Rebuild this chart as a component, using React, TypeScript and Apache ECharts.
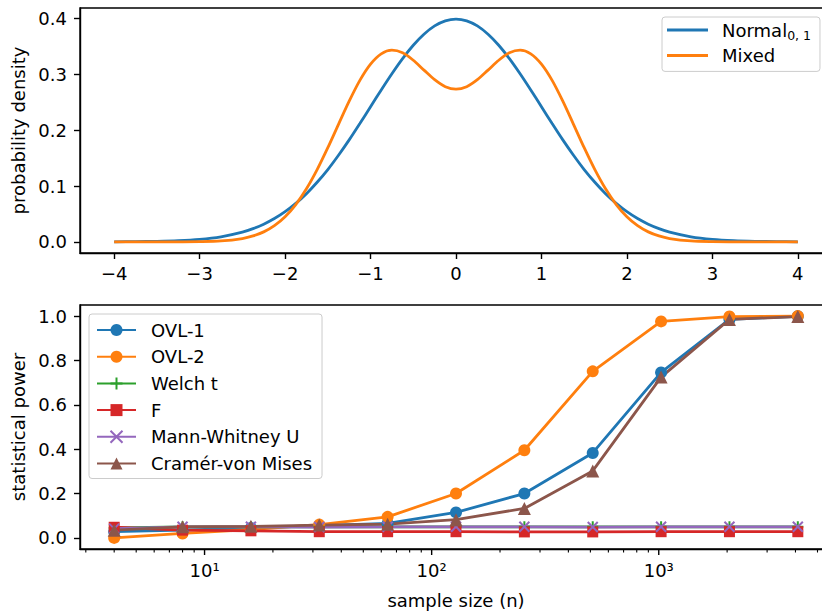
import React, { useEffect, useRef } from 'react';
import * as echarts from 'echarts';

// ---------- data ----------
const densityX = [
  -4, -3.75, -3.5, -3.25, -3, -2.75, -2.5, -2.375, -2.25, -2.125, -2, -1.875, -1.75, -1.625, -1.5, -1.375, -1.25, -1.125,
  -1, -0.875, -0.75, -0.625, -0.5, -0.375, -0.25, -0.125,
  0, 0.125, 0.25, 0.375, 0.5, 0.625, 0.75, 0.875, 1, 1.125, 1.25, 1.375, 1.5, 1.625, 1.75, 1.875, 2, 2.125, 2.25, 2.375,
  2.5, 2.75, 3, 3.25, 3.5, 3.75, 4,
];
const normalDensity = [
  0.0001, 0.0004, 0.0009, 0.002, 0.0044, 0.0091, 0.0175, 0.0238, 0.0317, 0.0417, 0.054, 0.0689, 0.0863, 0.1067, 0.1295, 0.1551, 0.1826, 0.2119,
  0.242, 0.2721, 0.3011, 0.3282, 0.3521, 0.3718, 0.3867, 0.3958,
  0.3989, 0.3958, 0.3867, 0.3718, 0.3521, 0.3282, 0.3011, 0.2721, 0.242, 0.2119, 0.1826, 0.1551, 0.1295, 0.1067, 0.0863, 0.0689, 0.054, 0.0417, 0.0317, 0.0238,
  0.0175, 0.0091, 0.0044, 0.002, 0.0009, 0.0004, 0.0001,
];
const mixedDensity = [
  0, 0, 0, 0.0001, 0.0004, 0.0017, 0.006, 0.0106, 0.0179, 0.029, 0.045, 0.0668, 0.095, 0.1293, 0.1686, 0.2105, 0.2519, 0.2891,
  0.3182, 0.3367, 0.3432, 0.3385, 0.3252, 0.3076, 0.2904, 0.2779,
  0.2734, 0.2779, 0.2904, 0.3076, 0.3252, 0.3385, 0.3432, 0.3367, 0.3182, 0.2891, 0.2519, 0.2105, 0.1686, 0.1293, 0.095, 0.0668, 0.045, 0.029, 0.0179, 0.0106,
  0.006, 0.0017, 0.0004, 0.0001, 0, 0, 0,
];

const sampleSizes = [4, 8, 16, 32, 64, 128, 256, 512, 1024, 2048, 4096];
const ovl1Power = [0.028, 0.035, 0.045, 0.055, 0.065, 0.115, 0.2, 0.383, 0.746, 0.985, 0.999];
const ovl2Power = [0.0, 0.02, 0.038, 0.06, 0.095, 0.2, 0.395, 0.751, 0.976, 0.998, 1.0];
const welchPower = [0.045, 0.05, 0.05, 0.05, 0.05, 0.05, 0.05, 0.05, 0.05, 0.05, 0.05];
const fPower = [0.048, 0.035, 0.032, 0.028, 0.028, 0.028, 0.027, 0.027, 0.028, 0.028, 0.028];
const mannWhitneyPower = [0.042, 0.05, 0.05, 0.049, 0.05, 0.05, 0.05, 0.049, 0.05, 0.05, 0.05];
const cvmPower = [0.035, 0.05, 0.052, 0.058, 0.062, 0.082, 0.133, 0.302, 0.725, 0.985, 0.998];

const densityXTicks = [-4, -3, -2, -1, 0, 1, 2, 3, 4];
const densityYTicks = [0, 0.1, 0.2, 0.3, 0.4];
const powerYTicks = [0, 0.2, 0.4, 0.6, 0.8, 1.0];
const logMajorTicks = [10, 100, 1000];
const logMajorLabels = ['10\u00b9', '10\u00b2', '10\u00b3'];
const logMinorTicks = [3, 4, 5, 6, 7, 8, 9, 20, 30, 40, 50, 60, 70, 80, 90, 200, 300, 400, 500, 600, 700, 800, 900, 2000, 3000, 4000, 5000];

// ---------- style ----------
const FONT = 'DejaVu Sans';
const FS = 18;
const C = ['#1f77b4', '#ff7f0e', '#2ca02c', '#d62728', '#9467bd', '#8c564b'];
const LW = 2.8;
const AX_W = 1.4;

const X1_MIN = -4.4, X1_MAX = 4.4;
const Y1_MIN = -0.01995, Y1_MAX = 0.4188;
const X2_MIN = 2.8284, X2_MAX = 5792.6;
const Y2_MIN = -0.05, Y2_MAX = 1.05;

const PLUS = 'path://M0,50 L100,50 M50,0 L50,100';
const CROSS = 'path://M0,0 L100,100 M0,100 L100,0';

function fmtMinus(v: number, digits: number) {
  const s = Math.abs(v).toFixed(digits);
  return v < 0 ? '\u2212' + s : s;
}

function axisCommon() {
  return {
    axisLine: { show: true, onZero: false, lineStyle: { color: '#000', width: AX_W } },
    splitLine: { show: false },
    nameTextStyle: { color: '#000', fontFamily: FONT, fontSize: FS },
  };
}

function powerSeries(name: string, vals: number[], color: string, symbol: string, size: number, stroke: boolean) {
  return {
    type: 'line',
    name,
    xAxisIndex: 1,
    yAxisIndex: 1,
    data: sampleSizes.map((n, i) => [n, vals[i]]),
    symbol,
    symbolSize: size,
    showSymbol: true,
    lineStyle: { color, width: LW },
    itemStyle: stroke
      ? { color, borderColor: color, borderWidth: 2 }
      : { color, borderWidth: 0 },
    emphasis: { disabled: true },
  };
}

export default function App() {
  const ref = useRef<HTMLDivElement>(null);
  useEffect(() => {
    if (!ref.current) return;
    const chart = echarts.init(ref.current, null, { renderer: 'svg' });
    const option: any = {
      animation: false,
      textStyle: { fontFamily: FONT },
      grid: [
        { left: 80, top: 8, width: 752, height: 245, show: true, borderColor: '#000', borderWidth: AX_W, backgroundColor: 'transparent' },
        { left: 80, top: 305, width: 752, height: 244, show: true, borderColor: '#000', borderWidth: AX_W, backgroundColor: 'transparent' },
      ],
      xAxis: [
        {
          ...axisCommon(),
          type: 'value',
          gridIndex: 0,
          min: X1_MIN,
          max: X1_MAX,
          axisTick: { show: true, customValues: densityXTicks, length: 6, lineStyle: { color: '#000', width: AX_W } },
          axisLabel: {
            customValues: densityXTicks,
            formatter: (v: number) => fmtMinus(v, 0),
            color: '#000', fontFamily: FONT, fontSize: FS, margin: 11,
          },
        },
        {
          ...axisCommon(),
          type: 'log',
          logBase: 10,
          gridIndex: 1,
          min: X2_MIN,
          max: X2_MAX,
          axisTick: { show: false },
          axisLabel: { show: false },
          minorTick: { show: false },
          name: 'sample size (n)',
          nameLocation: 'middle',
          nameGap: 42,
        },
      ],
      yAxis: [
        {
          ...axisCommon(),
          type: 'value',
          gridIndex: 0,
          min: Y1_MIN,
          max: Y1_MAX,
          axisTick: { show: true, customValues: densityYTicks, length: 6, lineStyle: { color: '#000', width: AX_W } },
          axisLabel: {
            customValues: densityYTicks,
            formatter: (v: number) => fmtMinus(v, 1),
            color: '#000', fontFamily: FONT, fontSize: FS, margin: 13,
          },
          name: 'probability density',
          nameLocation: 'middle',
          nameGap: 47,
        },
        {
          ...axisCommon(),
          type: 'value',
          gridIndex: 1,
          min: Y2_MIN,
          max: Y2_MAX,
          axisTick: { show: true, customValues: powerYTicks, length: 6, lineStyle: { color: '#000', width: AX_W } },
          axisLabel: {
            customValues: powerYTicks,
            formatter: (v: number) => fmtMinus(v, 1),
            color: '#000', fontFamily: FONT, fontSize: FS, margin: 13,
          },
          name: 'statistical power',
          nameLocation: 'middle',
          nameGap: 47,
        },
      ],
      legend: [
        {
          data: ['Normal', 'Mixed'],
          orient: 'vertical',
          left: 662,
          top: 17,
          icon: 'rect',
          itemWidth: 41,
          itemHeight: 3,
          itemGap: 4.4,
          padding: [4, 9, 7, 5],
          selectedMode: false,
          formatter: (name: string) => (name === 'Normal' ? '{n|Normal}{s|0, 1}' : '{n|' + name + '}'),
          textStyle: {
            color: '#000', fontFamily: FONT, fontSize: FS, padding: [0, 0, 0, 9],
            rich: {
              n: { color: '#000', fontFamily: FONT, fontSize: FS, lineHeight: 24 },
              s: { color: '#000', fontFamily: FONT, fontSize: 12.5, lineHeight: 12, verticalAlign: 'bottom' },
            },
          },
          backgroundColor: 'rgba(255,255,255,0.8)',
          borderColor: '#cccccc',
          borderWidth: 1,
          borderRadius: 3,
        },
        {
          data: ['OVL-1', 'OVL-2', 'Welch t', 'F', 'Mann-Whitney U', 'Cramér-von Mises'],
          orient: 'vertical',
          left: 89,
          top: 314,
          itemWidth: 39,
          itemHeight: 15,
          itemGap: 6.7,
          padding: [6, 10, 5, 7],
          selectedMode: false,
          textStyle: { color: '#000', fontFamily: FONT, fontSize: FS, lineHeight: 20, padding: [0, 0, 0, 10] },
          backgroundColor: 'rgba(255,255,255,0.8)',
          borderColor: '#cccccc',
          borderWidth: 1,
          borderRadius: 3,
        },
      ],
      series: [
        {
          type: 'line', name: 'Normal', xAxisIndex: 0, yAxisIndex: 0,
          data: densityX.map((x, i) => [x, normalDensity[i]]),
          symbol: 'none', smooth: 0.3,
          lineStyle: { color: C[0], width: LW }, itemStyle: { color: C[0] },
          emphasis: { disabled: true },
        },
        {
          type: 'line', name: 'Mixed', xAxisIndex: 0, yAxisIndex: 0,
          data: densityX.map((x, i) => [x, mixedDensity[i]]),
          symbol: 'none', smooth: 0.3,
          lineStyle: { color: C[1], width: LW }, itemStyle: { color: C[1] },
          emphasis: { disabled: true },
        },
        powerSeries('OVL-1', ovl1Power, C[0], 'circle', 12, false),
        powerSeries('OVL-2', ovl2Power, C[1], 'circle', 12, false),
        powerSeries('Welch t', welchPower, C[2], PLUS, 11, true),
        powerSeries('F', fPower, C[3], 'rect', 11, false),
        powerSeries('Mann-Whitney U', mannWhitneyPower, C[4], CROSS, 10, true),
        powerSeries('Cramér-von Mises', cvmPower, C[5], 'triangle', 13, false),
        {
          type: 'custom',
          name: 'logTicks',
          xAxisIndex: 1,
          yAxisIndex: 1,
          silent: true,
          clip: false,
          z: 10,
          encode: { x: 0, y: 1 },
          data: [
            ...logMajorTicks.map((v, i) => [v, 0, 1, i]),
            ...logMinorTicks.map((v) => [v, 0, 0, -1]),
          ],
          renderItem: (_params: any, api: any) => {
            const v = api.value(0);
            const major = api.value(2) === 1;
            const idx = api.value(3);
            const p = api.coord([v, Y2_MIN]);
            const len = major ? 6 : 3.5;
            const children: any[] = [
              {
                type: 'line',
                shape: { x1: p[0], y1: p[1], x2: p[0], y2: p[1] + len },
                style: { stroke: '#000', lineWidth: major ? AX_W : 1.1 },
              },
            ];
            if (major) {
              children.push({
                type: 'text',
                x: p[0],
                y: p[1] + 21,
                style: {
                  text: logMajorLabels[idx],
                  align: 'center',
                  verticalAlign: 'middle',
                  fill: '#000',
                  font: `${FS}px "${FONT}"`,
                },
              });
            }
            return { type: 'group', children };
          },
        },
      ],
    };
    chart.setOption(option);
    return () => chart.dispose();
  }, []);
  return (
    <div style={{ position: 'absolute', left: 0, top: 0, width: 822, height: 611, overflow: 'hidden' }}>
      <div ref={ref} style={{ width: 842, height: 611 }} />
    </div>
  );
}
